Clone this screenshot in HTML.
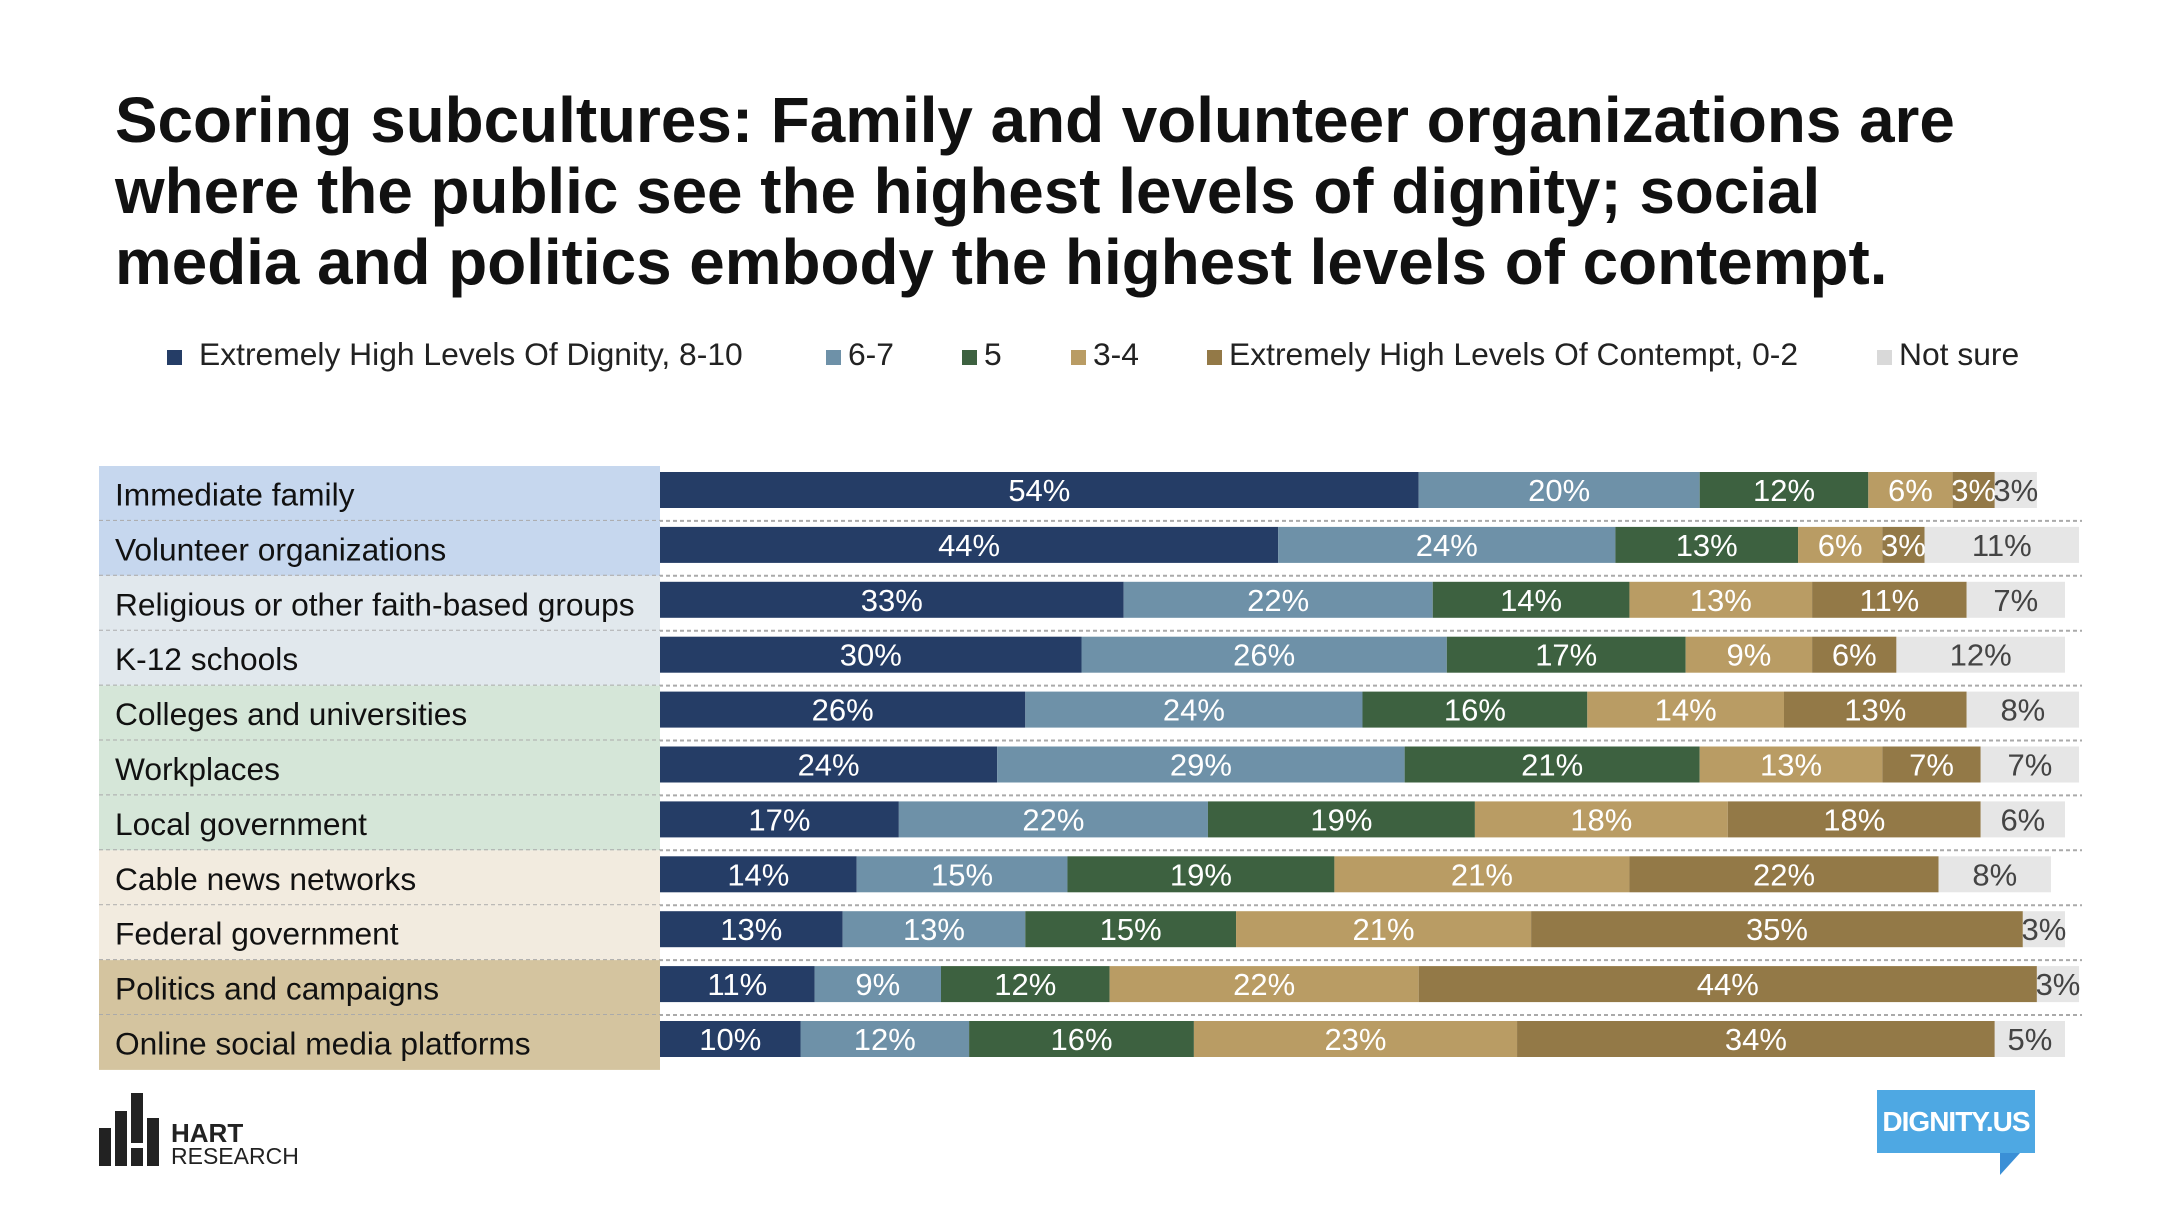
<!DOCTYPE html>
<html><head><meta charset="utf-8">
<style>
body{margin:0;width:2172px;height:1218px;background:#fff;font-family:"Liberation Sans",Arial,sans-serif;position:relative;overflow:hidden}
#title{position:absolute;left:115px;top:85px;font-size:63.8px;font-weight:bold;line-height:71px;color:#111;letter-spacing:0px;white-space:nowrap}
.leg{position:absolute;top:336px;font-size:31.8px;color:#222;white-space:nowrap}
.sq{position:absolute;top:350px;width:15px;height:15px}
</style></head><body>
<div id="title">Scoring subcultures: Family and volunteer organizations are<br>where the public see the highest levels of dignity; social<br>media and politics embody the highest levels of contempt.</div>
<div id="legend"></div>
<svg id="chart" width="2172" height="1218" style="position:absolute;left:0;top:0"></svg>
<div style="position:absolute;left:99px;top:1093px;width:210px;height:75px">
 <div style="position:absolute;left:0;top:35px;width:12px;height:38px;background:#222"></div>
 <div style="position:absolute;left:16px;top:18px;width:12px;height:55px;background:#222"></div>
 <div style="position:absolute;left:32px;top:0;width:12px;height:50px;background:#222"></div>
 <div style="position:absolute;left:32px;top:55px;width:12px;height:18px;background:#222"></div>
 <div style="position:absolute;left:48px;top:25px;width:12px;height:48px;background:#222"></div>
 <div style="position:absolute;left:72px;top:28px;font-size:26px;font-weight:bold;color:#222;line-height:24px">HART</div>
 <div style="position:absolute;left:72px;top:52px;font-size:23px;color:#222;line-height:22px">RESEARCH</div>
</div>
<div style="position:absolute;left:1877px;top:1090px;width:158px;height:63px;background:#4ea8e3;color:#fff;font-size:28px;font-weight:bold;text-align:center;line-height:63px;letter-spacing:-1px;overflow:hidden">DIGNITY.US</div>
<div style="position:absolute;left:2000px;top:1153px;width:0;height:0;border-right:20px solid transparent;border-top:22px solid #3a8fd6"></div>
<script>
const categories=["Immediate family","Volunteer organizations","Religious or other faith-based groups","K-12 schools","Colleges and universities","Workplaces","Local government","Cable news networks","Federal government","Politics and campaigns","Online social media platforms"];
const dignity=[54,44,33,30,26,24,17,14,13,11,10];
const s67=[20,24,22,26,24,29,22,15,13,9,12];
const s5=[12,13,14,17,16,21,19,19,15,12,16];
const s34=[6,6,13,9,14,13,18,21,21,22,23];
const contempt=[3,3,11,6,13,7,18,22,35,44,34];
const notSure=[3,11,7,12,8,7,6,8,3,3,5];
const seriesNames=["Extremely High Levels Of Dignity, 8-10","6-7","5","3-4","Extremely High Levels Of Contempt, 0-2","Not sure"];
const series=[dignity,s67,s5,s34,contempt,notSure];
const colors=["#253d66","#6e91a8","#3d6140","#b99c64","#937947","#e6e6e6"];
const labelBg=["#c6d7ee","#c6d7ee","#e1e8ed","#e1e8ed","#d5e6d8","#d5e6d8","#d5e6d8","#f2ebdf","#f2ebdf","#d4c49f","#d4c49f"];
const legX=[167,826,962,1071,1207,1877];
const NS="http://www.w3.org/2000/svg";
const svg=document.getElementById('chart');
const x0=660,unit=14.05,top0=466,rowH=54.9,barH=36;
function xs(v){return x0+v*unit;}
function ys(i){return top0+i*rowH;}
function mk(t,a){const e=document.createElementNS(NS,t);for(const k in a)e.setAttribute(k,a[k]);svg.appendChild(e);return e;}
categories.forEach((c,i)=>{
  const bg=mk('rect',{x:99,y:ys(i),width:x0-99,height:rowH,fill:labelBg[i]});
  
  
  const t=mk('text',{x:115,y:ys(i)+rowH/2+12,'font-size':31.7,fill:'#111'});
  t.textContent=c;
  
  
  let cum=0;
  series.forEach((s,j)=>{
    const v=s[i];
    const r=mk('rect',{x:xs(cum),y:ys(i)+6,width:v*unit,height:barH,fill:colors[j]});
    
    
    const l=mk('text',{x:xs(cum+v/2),y:ys(i)+6+barH/2+11,'font-size':31,'text-anchor':'middle',fill:j==5?'#444':'#fff'});
    l.textContent=v+'%';
    
    
    cum+=v;
  });
  if(i<categories.length-1){
    const d=mk('line',{x1:99,x2:2082,y1:ys(i+1),y2:ys(i+1),stroke:'#aaa','stroke-width':2,'stroke-dasharray':'4 3'});
    
    
  }
});
const leg=document.getElementById('legend');
seriesNames.forEach((n,j)=>{
  const s=document.createElement('div');s.className='sq';s.style.left=legX[j]+'px';s.style.background=j==5?'#d9d9d9':colors[j];
  
  
  leg.appendChild(s);
  const t=document.createElement('div');t.className='leg';t.style.left=(legX[j]+(j==0?32:22))+'px';t.textContent=n;
  
  
  leg.appendChild(t);
});
</script>
</body></html>
